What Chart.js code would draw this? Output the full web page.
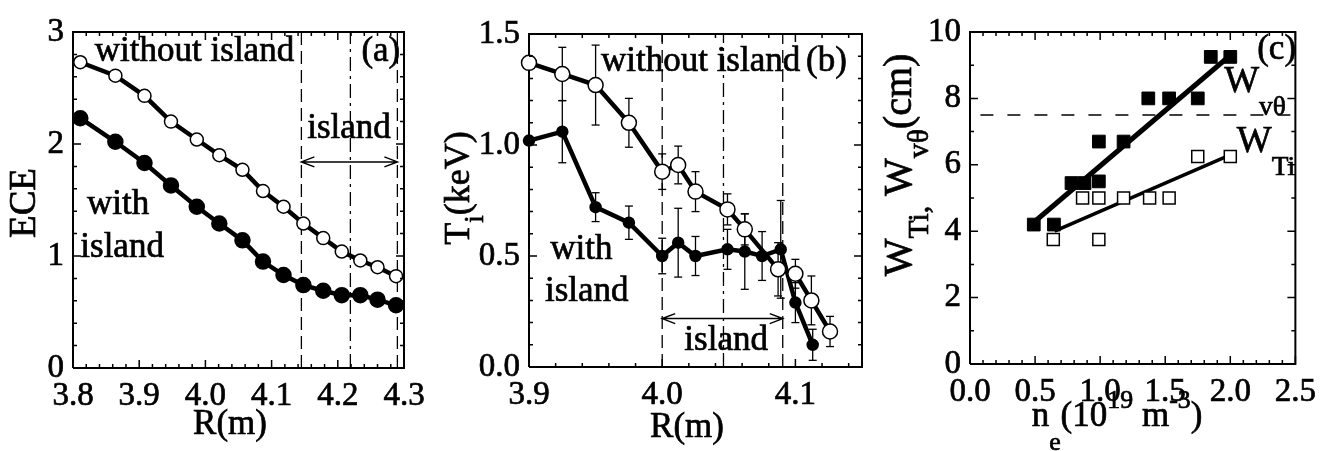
<!DOCTYPE html>
<html>
<head>
<meta charset="utf-8">
<title>ECE, Ti profiles and island width</title>
<script src="https://cdn.jsdelivr.net/npm/chart.js@4.4.1/dist/chart.umd.min.js"></script>
<style>
	html, body { margin: 0; padding: 0; background: #fff; }
	#wrap { position: relative; width: 1325px; height: 451px; overflow: hidden; }
	.panel { position: absolute; top: 0; }
	.panel canvas { display: block; }
</style>
</head>
<body>
<div id="wrap">
	<div class="panel" style="left:0px"><canvas id="chartA" width="440" height="451"></canvas></div>
	<div class="panel" style="left:440px"><canvas id="chartB" width="440" height="451"></canvas></div>
	<div class="panel" style="left:880px"><canvas id="chartC" width="445" height="451"></canvas></div>
</div>
<script>
// (a) ECE profiles, with and without island
var ecePositions = [3.811, 3.864, 3.908, 3.948, 3.987, 4.021, 4.056, 4.087, 4.118, 4.148, 4.178, 4.206, 4.234, 4.260, 4.288];
var eceWithout = [2.73, 2.61, 2.43, 2.20, 2.04, 1.90, 1.77, 1.58, 1.44, 1.29, 1.16, 1.04, 0.96, 0.90, 0.82];
var eceWith = [2.23, 2.02, 1.83, 1.63, 1.44, 1.29, 1.14, 0.95, 0.83, 0.74, 0.69, 0.65, 0.65, 0.61, 0.56];
var eceTicksX = [3.8, 3.9, 4.0, 4.1, 4.2, 4.3];
var eceTicksY = [0, 1, 2, 3];
var eceIslandLines = [4.145, 4.219, 4.290];

// (b) ion temperature profiles
var tiPosWithout = [3.900, 3.925, 3.950, 3.975, 4.000, 4.012, 4.025, 4.049, 4.062, 4.087, 4.100, 4.112, 4.126];
var tiWithout = [1.37, 1.32, 1.27, 1.10, 0.88, 0.91, 0.79, 0.71, 0.62, 0.44, 0.42, 0.30, 0.16];
var tiErrWithout = [0, 0.12, 0.18, 0.11, 0.08, 0.085, 0.09, 0.07, 0.07, 0.12, 0.065, 0.11, 0.068];
var tiPosWith = [3.900, 3.925, 3.950, 3.975, 4.000, 4.012, 4.025, 4.049, 4.062, 4.075, 4.089, 4.100, 4.113];
var tiWith = [1.02, 1.06, 0.72, 0.65, 0.50, 0.56, 0.50, 0.53, 0.52, 0.50, 0.53, 0.29, 0.10];
var tiErrWith = [0, 0.14, 0.065, 0.075, 0.08, 0.155, 0.088, 0.09, 0.17, 0.11, 0.22, 0.09, 0.07];
var tiTicksX = [3.9, 4.0, 4.1];
var tiTicksY = [0.0, 0.5, 1.0, 1.5];
var tiIslandLines = [4.000, 4.046, 4.0905];

// (c) island widths against density
var neVtheta = [0.49, 0.645, 0.78, 0.88, 0.99, 0.99, 1.18, 1.37, 1.53, 1.75, 1.85, 2.0];
var wVtheta = [4.2, 4.2, 5.45, 5.45, 5.5, 6.7, 6.7, 8.0, 8.0, 8.0, 9.25, 9.25];
var neTi = [0.64, 0.865, 0.99, 0.99, 1.18, 1.38, 1.53, 1.75, 2.0];
var wTi = [3.75, 5.0, 5.0, 3.75, 5.0, 5.0, 5.0, 6.25, 6.25];
var fitVthetaX = [0.5, 2.0];
var fitVthetaY = [4.3, 9.3];
var fitTiX = [0.65, 2.0];
var fitTiY = [4.0, 6.3];
var thresholdX = [0.08, 2.48];
var thresholdY = [7.5, 7.5];
var widthTicksX = [0.0, 0.5, 1.0, 1.5, 2.0, 2.5];
var widthTicksY = [0, 2, 4, 6, 8, 10];

(function() {
	'use strict';
	var FONT = '"Liberation Serif", "Times New Roman", serif';

	function pairs(xs, ys) {
		return xs.map(function(x, i) {
			return { x : x, y : ys[i] };
		});
	}

	function axis(min, max, ticks, decimals, size) {
		return {
			type : 'linear',
			min : min,
			max : max,
			grid : { display : false, drawTicks : false },
			border : { display : false },
			afterBuildTicks : function(scale) {
				scale.ticks = ticks.map(function(v) {
					return { value : v };
				});
			},
			afterFit : function(scale) {
				if (scale.isHorizontal()) {
					scale.height = size;
				} else {
					scale.width = size;
				}
			},
			ticks : {
				padding : 9,
				color : '#000',
				textStrokeColor : '#000',
				textStrokeWidth : 0.7,
				autoSkip : false,
				maxRotation : 0,
				font : { family : FONT, size : 33 },
				callback : function(v) {
					return Number(v).toFixed(decimals);
				}
			}
		};
	}

	function refLine(xs, ys, dash) {
		return {
			data : pairs(xs, ys),
			showLine : true,
			borderColor : '#000',
			borderWidth : 1.3,
			borderDash : dash,
			pointRadius : 0
		};
	}

	// closed box round the plot, drawn by the library like any other line
	function frame(x0, x1, y0, y1) {
		return {
			data : pairs([ x0, x1, x1, x0, x0 ], [ y0, y0, y1, y1, y0 ]),
			showLine : true,
			borderColor : '#000',
			borderWidth : 2,
			borderJoinStyle : 'miter',
			pointRadius : 0,
			clip : false
		};
	}

	// one small two-point dataset per error bar, caps drawn as 'line' markers
	function errorBars(xs, ys, errs) {
		var sets = [];
		xs.forEach(function(x, i) {
			if (!errs[i]) {
				return;
			}
			sets.push({
				data : [ { x : x, y : ys[i] - errs[i] }, { x : x, y : ys[i] + errs[i] } ],
				showLine : true,
				borderColor : '#000',
				borderWidth : 1.3,
				pointStyle : 'line',
				pointRadius : 4,
				pointBorderWidth : 1.3,
				pointBorderColor : '#000',
				clip : false
			});
		});
		return sets;
	}

	function drawRich(ctx, item, px, py) {
		var size = item.size || 35;
		var subShift = item.subShift || 0.45;
		var widths = [], total = 0;
		item.parts.forEach(function(p) {
			ctx.font = (p[1] ? size * 0.74 : size) + 'px ' + FONT;
			var w = ctx.measureText(p[0]).width;
			widths.push(w);
			total += w;
		});
		ctx.save();
		ctx.translate(px, py);
		if (item.rotate) {
			ctx.rotate(item.rotate * Math.PI / 180);
		}
		var x = 0;
		if (item.align === 'center') {
			x = -total / 2;
		} else if (item.align === 'right') {
			x = -total;
		}
		ctx.fillStyle = '#000';
		ctx.strokeStyle = '#000';
		ctx.lineWidth = 0.7;
		ctx.setLineDash([]);
		ctx.textAlign = 'left';
		ctx.textBaseline = 'middle';
		item.parts.forEach(function(p, i) {
			var dy = 0;
			if (p[1] === 'sub') {
				dy = size * subShift;
			} else if (p[1] === 'sup') {
				dy = -size * 0.45;
			}
			ctx.font = (p[1] ? size * 0.74 : size) + 'px ' + FONT;
			ctx.fillText(p[0], x, dy);
			ctx.strokeText(p[0], x, dy);
			x += widths[i];
		});
		ctx.restore();
	}

	// inward minor and major ticks on all four sides, placed with the scales
	function inwardTicks(ctx, scale, other, step, majors, horizontal) {
		var lo = other.getPixelForValue(other.min);
		var hi = other.getPixelForValue(other.max);
		var dir = hi > lo ? 1 : -1;
		var n = Math.floor((scale.max - scale.min) / step + 1e-6);
		for (var k = 0; k <= n; k++) {
			var v = scale.min + k * step;
			var major = majors.some(function(m) {
				return Math.abs(m - v) < step / 10;
			});
			var len = major ? 8 : 4;
			var p = scale.getPixelForValue(v);
			ctx.beginPath();
			if (horizontal) {
				ctx.moveTo(p, lo);
				ctx.lineTo(p, lo + dir * len);
				ctx.moveTo(p, hi);
				ctx.lineTo(p, hi - dir * len);
			} else {
				ctx.moveTo(lo, p);
				ctx.lineTo(lo + dir * len, p);
				ctx.moveTo(hi, p);
				ctx.lineTo(hi - dir * len, p);
			}
			ctx.stroke();
		}
	}

	var paperPlugin = {
		id : 'paper',
		afterDatasetsDraw : function(chart) {
			var opts = chart.options.plugins.paper;
			var xs = chart.scales.x, ys = chart.scales.y, ctx = chart.ctx;
			ctx.save();
			ctx.setLineDash([]);
			ctx.globalAlpha = 1;
			ctx.strokeStyle = '#000';
			ctx.lineWidth = 1.5;
			inwardTicks(ctx, xs, ys, opts.minorX, opts.majorX, true);
			inwardTicks(ctx, ys, xs, opts.minorY, opts.majorY, false);
			ctx.restore();
		},
		afterDraw : function(chart) {
			var opts = chart.options.plugins.paper;
			var xs = chart.scales.x, ys = chart.scales.y, ctx = chart.ctx;
			ctx.save();
			ctx.setLineDash([]);
			ctx.strokeStyle = '#000';
			(opts.arrows || []).forEach(function(ar) {
				var x1 = xs.getPixelForValue(ar.x1), x2 = xs.getPixelForValue(ar.x2);
				var y = ys.getPixelForValue(ar.y);
				ctx.lineWidth = 1.5;
				ctx.beginPath();
				ctx.moveTo(x1, y);
				ctx.lineTo(x2, y);
				ctx.moveTo(x1 + 13, y - 5);
				ctx.lineTo(x1, y);
				ctx.lineTo(x1 + 13, y + 5);
				ctx.moveTo(x2 - 13, y - 5);
				ctx.lineTo(x2, y);
				ctx.lineTo(x2 - 13, y + 5);
				ctx.stroke();
			});
			ctx.restore();

			(opts.texts || []).forEach(function(t) {
				var px = t.px !== undefined ? t.px : xs.getPixelForValue(t.x);
				var py = t.py !== undefined ? t.py : ys.getPixelForValue(t.y);
				drawRich(ctx, t, px, py);
			});
		}
	};

	function baseOptions(layoutPad, scales, paper) {
		return {
			responsive : false,
			animation : false,
			layout : { padding : layoutPad },
			scales : scales,
			plugins : {
				legend : { display : false },
				tooltip : { enabled : false },
				paper : paper
			}
		};
	}

	// panel (a)
	new Chart(document.getElementById('chartA'), {
		type : 'scatter',
		plugins : [ paperPlugin ],
		data : {
			datasets : [ {
				data : pairs(ecePositions, eceWithout),
				showLine : true,
				borderColor : '#000',
				borderWidth : 4.5,
				pointRadius : 6.5,
				pointBackgroundColor : '#fff',
				pointBorderColor : '#000',
				pointBorderWidth : 1.5,
				clip : false
			}, {
				data : pairs(ecePositions, eceWith),
				showLine : true,
				borderColor : '#000',
				borderWidth : 4.5,
				pointRadius : 6,
				pointBackgroundColor : '#000',
				pointBorderColor : '#000',
				clip : false
			},
			refLine([eceIslandLines[0], eceIslandLines[0]], [0, 3], [13, 6]),
			refLine([eceIslandLines[1], eceIslandLines[1]], [0, 3], [14, 5, 3, 5]),
			refLine([eceIslandLines[2], eceIslandLines[2]], [0, 3], [13, 6]),
			frame(3.8, 4.3, 0, 3) ]
		},
		options : baseOptions({ left : 0, right : 36, top : 32, bottom : 0 }, {
			x : axis(3.8, 4.3, eceTicksX, 1, 83),
			y : axis(0, 3, eceTicksY, 0, 73)
		}, {
			minorX : 0.02, majorX : eceTicksX,
			minorY : 0.2, majorY : eceTicksY,
			arrows : [ { x1 : eceIslandLines[0], x2 : eceIslandLines[2], y : 1.84 } ],
			texts : [
				{ x : 3.833, y : 2.82, parts : [ [ 'without island' ] ] },
				{ x : 4.265, y : 2.82, align : 'center', parts : [ [ '(a)' ] ] },
				{ x : 4.217, y : 2.14, align : 'center', parts : [ [ 'island' ] ] },
				{ x : 3.821, y : 1.455, parts : [ [ 'with' ] ] },
				{ x : 3.811, y : 1.07, parts : [ [ 'island' ] ] },
				{ px : 25, py : 203, rotate : -90, align : 'center', size : 37, parts : [ [ 'ECE' ] ] },
				{ px : 230, py : 425, align : 'center', size : 35, parts : [ [ 'R(m)' ] ] }
			]
		})
	});

	// panel (b)
	var tiSets = [ {
		data : pairs(tiPosWithout, tiWithout),
		showLine : true,
		borderColor : '#000',
		borderWidth : 4.5,
		pointRadius : 7.5,
		pointBackgroundColor : '#fff',
		pointBorderColor : '#000',
		pointBorderWidth : 1.5,
		clip : false
	}, {
		data : pairs(tiPosWith, tiWith),
		showLine : true,
		borderColor : '#000',
		borderWidth : 4.5,
		pointRadius : 4,
		pointBackgroundColor : '#000',
		pointBorderColor : '#000',
		clip : false
	},
	refLine([tiIslandLines[0], tiIslandLines[0]], [0, 1.5], [13, 6]),
	refLine([tiIslandLines[1], tiIslandLines[1]], [0, 1.5], [14, 5, 3, 5]),
	refLine([tiIslandLines[2], tiIslandLines[2]], [0, 1.5], [13, 6]) ];
	tiSets = tiSets.concat(errorBars(tiPosWithout, tiWithout, tiErrWithout),
			errorBars(tiPosWith, tiWith, tiErrWith), [ frame(3.9, 4.15, 0, 1.5) ]);

	new Chart(document.getElementById('chartB'), {
		type : 'scatter',
		plugins : [ paperPlugin ],
		data : { datasets : tiSets },
		options : baseOptions({ left : 0, right : 18, top : 34, bottom : 0 }, {
			x : axis(3.9, 4.15, tiTicksX, 1, 84),
			y : axis(0, 1.5, tiTicksY, 1, 89)
		}, {
			minorX : 0.02, majorX : tiTicksX,
			minorY : 0.1, majorY : tiTicksY,
			arrows : [ { x1 : tiIslandLines[0], x2 : tiIslandLines[2], y : 0.218 } ],
			texts : [
				{ x : 3.954, y : 1.375, parts : [ [ 'without island' ] ] },
				{ x : 4.108, y : 1.375, parts : [ [ '(b)' ] ] },
				{ x : 3.916, y : 0.527, parts : [ [ 'with' ] ] },
				{ x : 3.912, y : 0.338, parts : [ [ 'island' ] ] },
				{ x : 4.048, y : 0.12, align : 'center', parts : [ [ 'island' ] ] },
				{ px : 20, py : 188, rotate : -90, align : 'center', size : 36, parts : [ [ 'T' ], [ 'i', 'sub' ], [ '(keV)' ] ] },
				{ px : 247, py : 428, align : 'center', size : 35, parts : [ [ 'R(m)' ] ] }
			]
		})
	});

	// panel (c)
	new Chart(document.getElementById('chartC'), {
		type : 'scatter',
		plugins : [ paperPlugin ],
		data : {
			datasets : [ {
				data : pairs(neVtheta, wVtheta),
				pointStyle : 'rect',
				pointRadius : 9,
				pointBackgroundColor : '#000',
				pointBorderColor : '#000',
				pointBorderWidth : 1
			}, {
				data : pairs(neTi, wTi),
				pointStyle : 'rect',
				pointRadius : 8.5,
				pointBackgroundColor : '#fff',
				pointBorderColor : '#000',
				pointBorderWidth : 1.5
			}, {
				data : pairs(fitVthetaX, fitVthetaY),
				showLine : true,
				borderColor : '#000',
				borderWidth : 5,
				pointRadius : 0
			}, {
				data : pairs(fitTiX, fitTiY),
				showLine : true,
				borderColor : '#000',
				borderWidth : 3.5,
				pointRadius : 0
			},
			refLine(thresholdX, thresholdY, [13, 14]),
			frame(0, 2.5, 0, 10) ]
		},
		options : baseOptions({ left : 0, right : 26, top : 32, bottom : 0 }, {
			x : axis(0, 2.5, widthTicksX, 1, 87),
			y : axis(0, 10, widthTicksY, 0, 90)
		}, {
			minorX : 0.1, majorX : widthTicksX,
			minorY : 1, majorY : widthTicksY,
			texts : [
				{ x : 2.356, y : 9.45, align : 'center', parts : [ [ '(c)' ] ] },
				{ x : 1.953, y : 8.5, size : 37, subShift : 0.7, parts : [ [ 'W' ], [ 'v\u03b8', 'sub' ] ] },
				{ x : 2.05, y : 6.69, size : 37, subShift : 0.7, parts : [ [ 'W' ], [ 'Ti', 'sub' ] ] },
				{ px : 20, py : 165, rotate : -90, align : 'center', size : 40, subShift : 0.5,
					parts : [ [ 'W' ], [ 'Ti,', 'sub' ], [ ' W' ], [ 'v\u03b8', 'sub' ], [ '(cm)' ] ] },
				{ px : 237, py : 417, align : 'center', size : 35, subShift : 0.75,
					parts : [ [ 'n' ], [ 'e', 'sub' ], [ '(10' ], [ '19', 'sup' ], [ ' m' ], [ '-3', 'sup' ], [ ')' ] ] }
			]
		})
	});
})();
</script>
</body>
</html>
